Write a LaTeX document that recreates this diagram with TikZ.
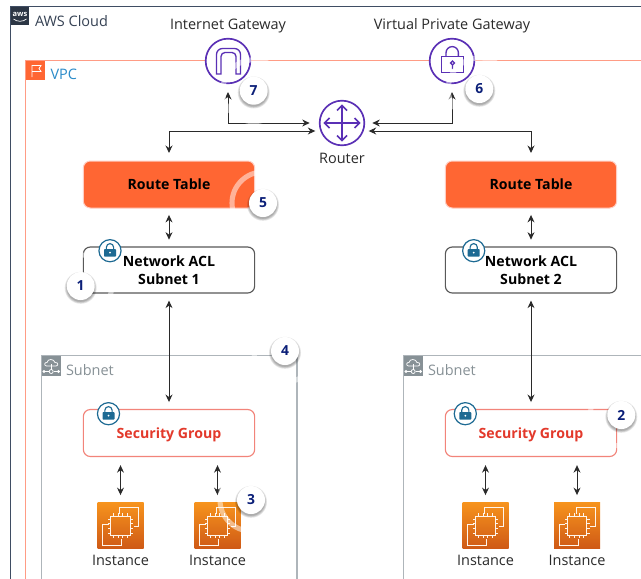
\documentclass[tikz,border=0pt]{standalone}
\usepackage{fontspec}
\setmainfont{Open Sans}
\usetikzlibrary{arrows.meta}
\definecolor{cloudc}{HTML}{3F4D63}
\definecolor{vpcc}{HTML}{FF9C85}
\definecolor{vpcf}{HTML}{FF6633}
\definecolor{vpct}{HTML}{2A8BC9}
\definecolor{purp}{HTML}{5A30B5}
\definecolor{lockc}{HTML}{1D6A93}
\definecolor{subc}{HTML}{879196}
\definecolor{subl}{HTML}{AEB5BA}
\definecolor{sgc}{HTML}{F2847A}
\definecolor{sgt}{HTML}{E3392B}
\definecolor{navy}{HTML}{0B1F78}
\definecolor{arrc}{HTML}{2A2A2A}
\definecolor{txtc}{HTML}{2A2A2A}
\definecolor{insta}{HTML}{F7941D}
\definecolor{instb}{HTML}{CF5A16}
\tikzset{
  x=0.75pt,y=-0.75pt,
  every node/.style={inner sep=0pt,outer sep=0pt,text=txtc},
  lbl/.style={font=\fontsize{10.85pt}{12pt}\selectfont,anchor=center},
  boldlbl/.style={font=\fontsize{10.6pt}{13.5pt}\selectfont\bfseries,align=center},
  rtbox/.style={boldlbl,rectangle,rounded corners=5.25pt,fill=vpcf,draw=vpcc!50!white,line width=.75pt,minimum width=128.5pt,minimum height=35.25pt,text=black},
  aclbox/.style={boldlbl,rectangle,rounded corners=5.25pt,fill=white,draw=black!65,line width=.85pt,minimum width=128.5pt,minimum height=34.5pt,text=black},
  sgbox/.style={boldlbl,rectangle,rounded corners=5.25pt,fill=white,draw=sgc,line width=.85pt,minimum width=128.5pt,minimum height=35.25pt,text=sgt,text depth=0pt},
  gw/.style={circle,draw=purp,fill=white,line width=1.25pt,minimum size=33.5pt},
  icon/.style={draw=purp,line width=1pt,line join=miter},
  arr/.style={draw=arrc,line width=.75pt,<->,>={Stealth[length=5.6pt,width=5.2pt]}},
  instbox/.style={rectangle,minimum size=34.5pt,top color=insta,bottom color=instb},
  chipl/.style={draw=white!92!orange,line width=.6pt},
  badge/.style={circle,fill=white,minimum size=21pt,font=\fontsize{10.4pt}{12pt}\selectfont\bfseries,text=navy},
  halo/.style={draw=white,opacity=.5,line width=3.8pt},
  shade/.style={fill=black,opacity=.09},
  lockring/.style={circle,draw=lockc,fill=white,line width=.9pt,minimum size=16.6pt},
  pics/seclock/.style={code={
    \fill[lockc,rounded corners=.5pt] (-6,-1.5) rectangle (6,5.8);
    \draw[lockc,line width=.85pt] (-3.6,-1.5) -- (-3.6,-3.5) arc (180:360:3.6) -- (3.6,-1.5);
    \fill[white] (0,2) circle (1);
  }},
  pics/chip/.style={code={
    \draw[chipl] (22,12) -- (22,5.3) -- (41,5.3) -- (41,24.7) -- (36,24.7);
    \draw[chipl] (11,22) -- (5,22) -- (5,43) -- (24.3,43) -- (24.3,37);
    \draw[chipl] (13.3,14) rectangle (32.7,33);
    \foreach \t in {17,21.7,26.3,31}{
      \draw[chipl] (\t-1.3,14) -- (\t-1.3,11.2); \draw[chipl] (\t-1.3,33) -- (\t-1.3,35.8);
      \draw[chipl] (13.3,\t) -- (10.5,\t); \draw[chipl] (32.7,\t) -- (35.5,\t);
    }
  }},
  pics/subicon/.style={code={
    \fill[subc] (0,0) rectangle (19.5,19.5);
    \draw[white,line width=.55pt] (5,10) .. controls (2.5,10) and (2.5,6) .. (5.5,6.5) .. controls (6,2.5) and (12.5,2.5) .. (13.5,6.5) .. controls (17,6) and (17,10) .. (14.5,10) -- cycle;
    \draw[white,line width=.55pt] (9.7,8) -- (9.7,13.5) (3,15.5) -- (7.5,15.5) (12,15.5) -- (16.5,15.5);
    \draw[white,line width=.55pt] (9.7,15.5) circle (2);
    \draw[white,line width=.55pt] (2.5,15.5) circle (1) (17,15.5) circle (1);
  }},
}
\begin{document}
\begin{tikzpicture}
\path[use as bounding box,clip] (0,0) rectangle (641,578);
\fill[white] (0,0) rectangle (641,578);
% frames
\draw[cloudc,line width=.9pt] (10.5,600) -- (10.5,6.5) -- (660,6.5);
\draw[vpcc,line width=.9pt] (25.5,600) -- (25.5,60.5) -- (660,60.5);
% AWS logo
\fill[cloudc!70!black] (11,7) rectangle (29,25);
\node[font=\fontsize{5.6pt}{6pt}\selectfont\bfseries,text=white] (awslogo) at (20,14.3) {aws};
\draw[white,line width=.5pt] (13.5,19) .. controls (17,22) and (23,22) .. (26.5,19);
\node[lbl,anchor=west,text=cloudc!85!black] (cloud) at (35,20.7) {AWS Cloud};
% VPC flag
\fill[vpcf] (26,61) rectangle (45,80);
\draw[white,line width=.55pt] (32,77) -- (32,65.5) -- (41,65.5) -- (39,68.5) -- (41,71.5) -- (32,71.5);
\node[lbl,anchor=west,text=vpct] (vpc) at (50.5,74.7) {VPC};
% subnets
\draw[subl,line width=.9pt] (41.5,600) -- (41.5,355.5) -- (297,355.5) -- (297,600);
\draw[subl,line width=.9pt] (403.5,600) -- (403.5,355.5) -- (660,355.5);
\pic at (41.5,356) {subicon};
\pic at (403.5,356) {subicon};
\node[lbl,anchor=west,text=subc] (s1) at (66,369.7) {Subnet};
\node[lbl,anchor=west,text=subc] (s2) at (428,369.7) {Subnet};
% gateways
\node[gw] (igw) at (228,61) {};
\node[gw] (vgw) at (452,61) {};
\node[gw] (router) at (342,123) {};
\draw[icon] (216.5,74) -- (216.5,54.5) arc (180:270:6) -- (234.5,48.5) arc (270:360:6) -- (240.5,74) -- (236,74) -- (236,56.5) arc (360:270:4) -- (225,52.5) arc (270:180:4) -- (221,74) -- cycle;
\draw[icon] (441.7,56.7) rectangle (463.3,72.7);
\draw[icon] (446,56.7) -- (446,52.8) arc (180:360:6.2) -- (458.4,56.7);
\draw[purp,line width=.95pt] (452.5,63) circle (1.9) (452.5,64.9) -- (452.5,69);
\draw[purp,line width=1.15pt] (342,105.5) -- (342,140.5) (324.5,123) -- (359.5,123);
\draw[purp,line width=1.15pt] (337,110.5) -- (342,105.5) -- (347,110.5) (337,135.5) -- (342,140.5) -- (347,135.5)
  (329.5,118) -- (324.5,123) -- (329.5,128) (354.5,118) -- (359.5,123) -- (354.5,128);
\node[lbl] (igwl) at (228,25.7) {Internet Gateway};
\node[lbl] (vgwl) at (452,25.7) {Virtual Private Gateway};
\node[lbl] (routerl) at (342,158.7) {Router};
% boxes
\node[rtbox] (rt1) at (169,184.5) {Route Table};
\node[rtbox] (rt2) at (531,184.5) {Route Table};
\node[aclbox] (acl1) at (169,270) {Network ACL\\Subnet 1};
\node[aclbox] (acl2) at (531,270) {Network ACL\\Subnet 2};
\node[sgbox] (sg1) at (169,433) {Security Group};
\node[sgbox] (sg2) at (531,433) {Security Group};
% locks
\node[lockring] (l1) at (110,250.7) {}; \pic at (l1) {seclock};
\node[lockring] (l2) at (473.7,250.7) {}; \pic at (l2) {seclock};
\node[lockring] (l3) at (108.5,413.7) {}; \pic at (l3) {seclock};
\node[lockring] (l4) at (465.3,413.7) {}; \pic at (l4) {seclock};
% instances
\node[instbox] (i1) at (120.5,525) {}; \pic at (97.5,502) {chip};
\node[instbox] (i2) at (217.5,525) {}; \pic at (194.5,502) {chip};
\node[instbox] (i3) at (485.5,525) {}; \pic at (462.5,502) {chip};
\node[instbox] (i4) at (577,525) {}; \pic at (554,502) {chip};
\node[lbl] (il1) at (120.5,560.7) {Instance};
\node[lbl] (il2) at (217.5,560.7) {Instance};
\node[lbl] (il3) at (485.5,560.7) {Instance};
\node[lbl] (il4) at (577,560.7) {Instance};
% connectors
\coordinate (ral) at (router.west);
\coordinate (rar) at (router.east);
\coordinate (rbl) at (319.3,131);
\coordinate (rbr) at (364.7,131);
\draw[arr,shorten <=6.5pt,shorten >=7.5pt] (igw.south) |- (ral);
\draw[arr,shorten <=6.5pt,shorten >=6pt] (vgw.south) |- (rar);
\draw[arr,shorten <=6pt,shorten >=3pt] (rt1.north) |- (rbl);
\draw[arr,shorten <=6pt,shorten >=3pt] (rt2.north) |- (rbr);
\draw[arr,shorten <=5.2pt,shorten >=5.5pt] (rt1.south) -- (acl1.north);
\draw[arr,shorten <=5.2pt,shorten >=5.5pt] (rt2.south) -- (acl2.north);
\draw[arr,shorten <=5.7pt,shorten >=5.6pt] (acl1.south) -- (sg1.north);
\draw[arr,shorten <=5.7pt,shorten >=5.6pt] (acl2.south) -- (sg2.north);
\draw[arr,shorten <=6.5pt,shorten >=5.2pt] (i1.north |- sg1.south) -- (i1.north);
\draw[arr,shorten <=6.5pt,shorten >=5.2pt] (i2.north |- sg1.south) -- (i2.north);
\draw[arr,shorten <=6.5pt,shorten >=5.2pt] (i3.north |- sg2.south) -- (i3.north);
\draw[arr,shorten <=6.5pt,shorten >=5.2pt] (i4.north |- sg2.south) -- (i4.north);
% halos and badges
\foreach \x/\y in {80.7/286,621.3/415,251/500,285/351,263/203,479.3/89,253.7/90.7}{
  \draw[halo] (\x,\y) circle (31);
  \foreach \r in {16,15.3,14.6,14}
    \fill[shade] (\x,\y+1.8) circle (\r);
}
\node[badge] (b1) at (80.7,286) {1};
\node[badge] (b2) at (621.3,415) {2};
\node[badge] (b3) at (251,500) {3};
\node[badge] (b4) at (285,351) {4};
\node[badge] (b5) at (263,203) {5};
\node[badge] (b6) at (479.3,89) {6};
\node[badge] (b7) at (253.7,90.7) {7};
\end{tikzpicture}
\end{document}
